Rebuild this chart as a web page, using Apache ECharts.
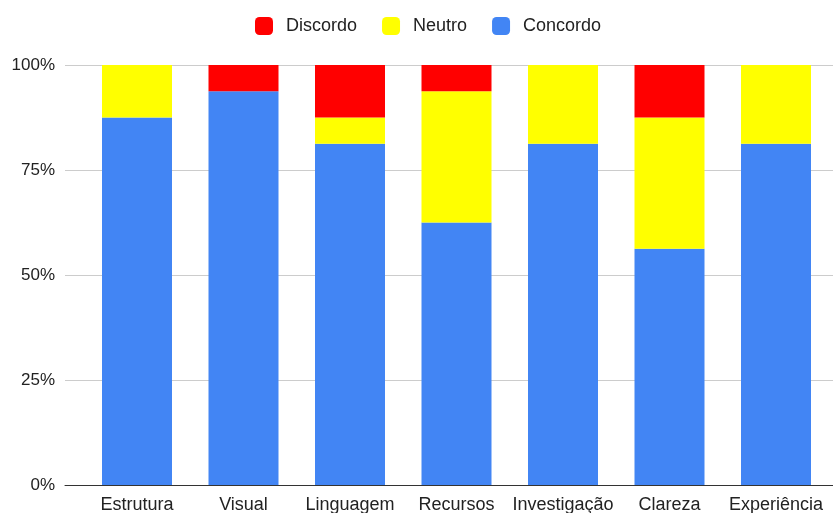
<!DOCTYPE html>
<html>
<head>
<meta charset="utf-8">
<script src="https://cdn.jsdelivr.net/npm/echarts@6/dist/echarts.min.js"></script>
<style>
  html, body { margin: 0; padding: 0; background: #fff; }
  #main { width: 833px; height: 513px; }
</style>
</head>
<body>
<div id="main"></div>
<script>
const categories = ['Estrutura', 'Visual', 'Linguagem', 'Recursos', 'Investigação', 'Clareza', 'Experiência'];
// percentages (16 respondents)
const concordo = [87.5, 93.75, 81.25, 62.5, 81.25, 56.25, 81.25];
const neutro = [12.5, 0, 6.25, 31.25, 18.75, 31.25, 18.75];
const discordo = [0, 6.25, 12.5, 6.25, 0, 12.5, 0];
const yTicks = [0, 25, 50, 75, 100];

let chartDom = document.getElementById('main');
let myChart = echarts.init(chartDom);

const font = '"Liberation Sans", Arial, sans-serif';

let opt = {
    backgroundColor: '#fff',
    animation: false,
    textStyle: { fontFamily: font },
    legend: {
        top: 12,
        left: 250,
        itemWidth: 18,
        itemHeight: 18,
        itemGap: 25,
        icon: 'roundRect',
        textStyle: { fontSize: 18, color: '#222', fontFamily: font, padding: [0, 0, 0, 8] },
        data: ['Discordo', 'Neutro', 'Concordo']
    },
    grid: [
        // background grid: y axis labels + gridlines across the full width
        { left: 65, right: 0, top: 65, bottom: 28, containLabel: false, outerBoundsMode: 'none' },
        // bars
        { left: 83.75, right: 3.75, top: 65, bottom: 28, containLabel: false, outerBoundsMode: 'none' }
    ],
    xAxis: [
        {
            gridIndex: 0,
            type: 'value',
            min: 0, max: 1,
            axisLine: { show: true, lineStyle: { color: '#333', width: 1 } },
            axisTick: { show: false },
            axisLabel: { show: false },
            splitLine: { show: false }
        },
        {
            gridIndex: 1,
            type: 'category',
            data: categories,
            axisLine: { show: false },
            axisTick: { show: false },
            axisLabel: { interval: 0, fontSize: 18, color: '#222', margin: 11, fontFamily: font }
        }
    ],
    yAxis: [
        {
            gridIndex: 0,
            type: 'value',
            min: 0, max: 100, interval: 25,
            axisLine: { show: false },
            axisTick: { show: false },
            axisLabel: {
                fontSize: 17, color: '#222', margin: 10, fontFamily: font,
                formatter: v => yTicks.includes(v) ? v + '%' : ''
            },
            splitLine: { lineStyle: { color: '#ccc', width: 1 } }
        },
        {
            gridIndex: 1,
            type: 'value',
            min: 0, max: 100,
            show: false
        }
    ],
    series: [
        {
            name: 'Concordo', type: 'bar', stack: 'total',
            xAxisIndex: 1, yAxisIndex: 1,
            barWidth: 70,
            itemStyle: { color: '#4285f4' },
            data: concordo
        },
        {
            name: 'Neutro', type: 'bar', stack: 'total',
            xAxisIndex: 1, yAxisIndex: 1,
            barWidth: 70,
            itemStyle: { color: '#ffff00' },
            data: neutro
        },
        {
            name: 'Discordo', type: 'bar', stack: 'total',
            xAxisIndex: 1, yAxisIndex: 1,
            barWidth: 70,
            itemStyle: { color: '#ff0000' },
            data: discordo
        }
    ]
};
myChart.setOption(opt);
</script>
</body>
</html>
